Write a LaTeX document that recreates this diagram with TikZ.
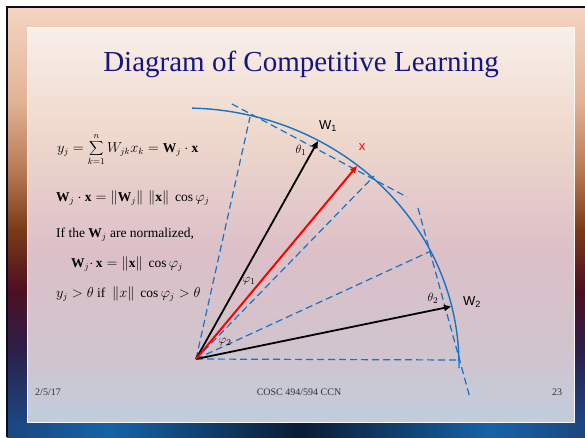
\documentclass[tikz,border=0pt]{standalone}
\usepackage{fontspec}
\setmainfont{Liberation Serif}
\setsansfont{Liberation Sans}
\usetikzlibrary{arrows.meta,calc}
\definecolor{arcblue}{RGB}{24,114,198}
\definecolor{titleblue}{RGB}{22,22,128}
\definecolor{frameclr}{RGB}{10,14,28}
\definecolor{bgA}{HTML}{F4D4C2}
\definecolor{bgB}{HTML}{E2B497}
\definecolor{bgC}{HTML}{B87A55}
\definecolor{bgD}{HTML}{7A3A18}
\definecolor{bgE}{HTML}{4E0F22}
\definecolor{bgF}{HTML}{2C1F4A}
\definecolor{bgG}{HTML}{1C4680}
\definecolor{bandBlue}{HTML}{1563A8}
\definecolor{bandDark}{HTML}{0B1B34}
\definecolor{pnA}{HTML}{F8EFEA}
\definecolor{pnB}{HTML}{EFD9CC}
\definecolor{pnC}{HTML}{DCC0C8}
\definecolor{pnD}{HTML}{D2C3CC}
\definecolor{pnE}{HTML}{C2CCDC}
\tikzset{
  dashline/.style={arcblue, line width=1.2pt, dash pattern=on 7pt off 4pt},
  arcline/.style={arcblue, line width=1.4pt},
  vecline/.style={black, line width=1.8pt, -{Triangle[length=7pt,width=6pt]}},
  redvec/.style={red, line width=2pt, -{Triangle[length=7pt,width=6pt]}},
  sflbl/.style={font=\sffamily\fontsize{13}{15}\selectfont, inner sep=0pt},
  mlbl/.style={font=\fontsize{12.5}{14}\selectfont, inner sep=0pt},
  eqn/.style={font=\fontsize{13.5}{15}\selectfont, anchor=base west, inner sep=0pt},
  foot/.style={font=\fontsize{10}{12}\selectfont, text=black!80, anchor=base, inner sep=0pt},
}
\begin{document}
\begin{tikzpicture}[x=1pt,y=-1pt]
\useasboundingbox (0,0) rectangle (585,437);
\fill[white] (0,0) rectangle (585,437);
% slide background strips
\shade[top color=bgA, bottom color=bgB] (7,7) rectangle (585,100.5);
\shade[top color=bgB, bottom color=bgC] (7,100) rectangle (585,170.5);
\shade[top color=bgC, bottom color=bgD] (7,170) rectangle (585,230.5);
\shade[top color=bgD, bottom color=bgE] (7,230) rectangle (585,290.5);
\shade[top color=bgE, bottom color=bgF] (7,290) rectangle (585,350.5);
\shade[top color=bgF, bottom color=bgG] (7,350) rectangle (585,422.5);
\shade[left color=bandBlue, right color=bandDark] (110,422) rectangle (300.5,437);
\shade[left color=bandDark, right color=bandBlue] (300,422) rectangle (490.5,437);
\shade[left color=bgG, right color=bandBlue] (7,422) rectangle (110.5,437);
\shade[left color=bandBlue, right color=bgG] (490,422) rectangle (585,437);
\draw[frameclr, line width=2.2pt] (6.6,437) -- (6.6,6.6) -- (585,6.6);
% inner panel
\shade[top color=pnA, bottom color=pnB] (27,27) rectangle (574,130.5);
\shade[top color=pnB, bottom color=pnC] (27,130) rectangle (574,250.5);
\shade[top color=pnC, bottom color=pnD] (27,250) rectangle (574,340.5);
\shade[top color=pnD, bottom color=pnE] (27,340) rectangle (574,422);
\draw[white!75!pnB, line width=0.8pt] (27,27) rectangle (574,422);
% title
\node[font=\fontsize{29}{34}\selectfont, text=titleblue, anchor=base, inner sep=0pt] (title) at (301,71.5) {Diagram of Competitive Learning};
% equations
\node[eqn] (eq1) at (57,152) {$\displaystyle y_j=\sum_{k=1}^{n}W_{jk}x_k=\mathbf{W}_j\cdot\mathbf{x}$};
\node[eqn] (eq2) at (56,201) {$\mathbf{W}_j\cdot\mathbf{x}=\left\|\mathbf{W}_j\right\|\,\|\mathbf{x}\|\ \cos\varphi_j$};
\node[eqn] (eq3) at (56,237) {If the $\mathbf{W}_j$ are normalized,};
\node[eqn] (eq4) at (71,267) {$\mathbf{W}_j{\cdot}\,\mathbf{x}=\|\mathbf{x}\|\ \cos\varphi_j$};
\node[eqn] (eq5) at (56,297) {$y_j>\theta\ \mathrm{if}\ \ \|x\|\ \cos\varphi_j>\theta$};
% geometry
\coordinate (O) at (196,359);
\coordinate (L1) at (250,117);
\coordinate (L2) at (374,176);
\coordinate (L3) at (431,251);
\coordinate (L4) at (460,360);
\coordinate (T1a) at (232,104);
\coordinate (T1b) at (407,197);
\coordinate (T2a) at (418,208);
\coordinate (T2b) at (470,398);
\coordinate (W1) at (318,141);
\coordinate (X) at (357,166);
\coordinate (W2) at (451,306.5);
\draw[dashline] (O) -- (L1);
\draw[dashline] (O) -- (L2);
\draw[dashline] (O) -- (L3);
\draw[dashline] (O) -- (L4);
\draw[dashline] (T1a) -- (T1b);
\draw[dashline] (T2a) -- (T2b);
\draw[arcline] plot[domain=-0.7:88.5, samples=80, smooth] ({185+274*cos(\x)}, {365-257*sin(\x)});
\draw[vecline] (O) -- (W1);
\draw[vecline] (O) -- (W2);
\draw[redvec] (O) -- (X);
% labels
\node[sflbl] (w1lbl) at (328,126) {W\textsubscript{1}};
\node[sflbl, text=red] (xlbl) at (362,147) {x};
\node[mlbl] (th1) at (301,150) {$\theta_1$};
\node[mlbl] (ph1) at (249,281) {$\varphi_1$};
\node[mlbl] (ph2) at (225,342) {$\varphi_2$};
\node[mlbl] (th2) at (433,298) {$\theta_2$};
\node[sflbl] (w2lbl) at (472,302) {W\textsubscript{2}};
% footer
\node[foot] (date) at (48,395) {2/5/17};
\node[foot] (course) at (299,395) {COSC 494/594 CCN};
\node[foot] (page) at (557,395) {23};
\end{tikzpicture}
\end{document}
